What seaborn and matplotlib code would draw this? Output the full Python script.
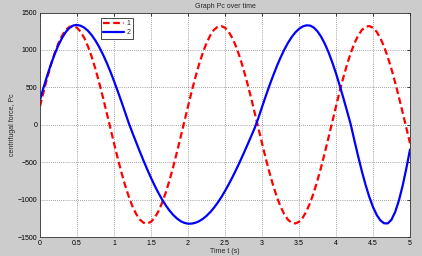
import numpy as np
import pandas as pd
import matplotlib
matplotlib.use('Agg')
import matplotlib.pyplot as plt
import seaborn as sns

# time axis, sampled every 0.05 s
time_s = np.round(np.arange(0, 101) * 0.05, 2)

# series 1 (red dashed)
pc_1 = [247, 447, 636, 809, 962, 1092, 1194, 1268, 1310, 1319,
        1297, 1242, 1157, 1043, 904, 742, 562, 368, 165, -41,
        -247, -447, -636, -809, -962, -1092, -1194, -1268, -1310, -1319,
        -1297, -1242, -1157, -1043, -904, -742, -562, -368, -165, 41,
        247, 447, 636, 809, 962, 1092, 1194, 1268, 1310, 1319,
        1297, 1242, 1157, 1043, 904, 742, 562, 368, 165, -41,
        -247, -447, -636, -809, -962, -1092, -1194, -1268, -1310, -1319,
        -1297, -1242, -1157, -1043, -904, -742, -562, -368, -165, 41,
        247, 447, 636, 809, 962, 1092, 1194, 1268, 1310, 1319,
        1297, 1242, 1157, 1043, 904, 742, 562, 368, 165, -41,
        -247]

# series 2 (blue solid)
pc_2 = [334, 504, 665, 815, 949, 1066, 1164, 1242, 1296, 1327,
        1335, 1323, 1296, 1254, 1196, 1124, 1039, 941, 832, 713,
        585, 449, 310, 166, 21, -110, -236, -361, -482, -599,
        -710, -814, -911, -999, -1078, -1147, -1205, -1252, -1288, -1311,
        -1322, -1321, -1310, -1289, -1258, -1218, -1168, -1110, -1043, -968,
        -885, -796, -701, -601, -496, -387, -275, -161, -46, 89,
        237, 382, 523, 656, 782, 897, 1002, 1093, 1171, 1234,
        1282, 1314, 1329, 1326, 1299, 1248, 1175, 1080, 966, 833,
        686, 525, 356, 180, 0, -216, -425, -624, -805, -965,
        -1100, -1205, -1278, -1317, -1318, -1268, -1164, -1011, -816, -585,
        -330]

x_ticks = [0, 0.5, 1, 1.5, 2, 2.5, 3, 3.5, 4, 4.5, 5]
x_tick_labels = ['0', '0.5', '1', '1.5', '2', '2.5', '3', '3.5', '4', '4.5', '5']
y_ticks = [-1500, -1000, -500, 0, 500, 1000, 1500]

df = pd.DataFrame({'t': np.concatenate([time_s, time_s]),
                   'Pc': pc_1 + pc_2,
                   'series': ['1'] * len(pc_1) + ['2'] * len(pc_2)})

sns.set_style('white')
plt.rcParams['font.family'] = ['Liberation Sans', 'DejaVu Sans']

fig = plt.figure(figsize=(4.22, 2.56), dpi=100, facecolor='#cccccc')
ax = fig.add_axes([0.0948, 0.0742, 0.8768, 0.8768])
ax.set_facecolor('white')

sns.lineplot(data=df, x='t', y='Pc', hue='series', style='series',
             palette={'1': '#ff0000', '2': '#0000ff'},
             dashes={'1': (3, 1.6), '2': ''}, linewidth=1.6, ax=ax)

ax.set_xlim(0, 5)
ax.set_ylim(-1500, 1500)
ax.set_xticks(x_ticks)
ax.set_xticklabels(x_tick_labels)
ax.set_yticks(y_ticks)
ax.grid(True, color='black', linestyle=(0, (1, 2)), linewidth=0.5, alpha=0.7)
ax.tick_params(direction='in', length=2.5, width=0.5, labelsize=5,
               top=True, right=True, pad=2, colors='black')
for s in ax.spines.values():
    s.set_color('#333333')
    s.set_linewidth(0.6)

ax.set_title('Graph Pc over time', fontsize=5, pad=3)
ax.set_xlabel('Time t (s)', fontsize=5, labelpad=1)
ax.set_ylabel('centrifugal force, Pc', fontsize=5, labelpad=1)

leg = ax.legend(loc='upper left', bbox_to_anchor=(0.155, 0.99), fontsize=5,
                handlelength=3.0, handletextpad=0.4, borderpad=0.3,
                labelspacing=0.3, fancybox=False, framealpha=1)
leg.get_frame().set_edgecolor('black')
leg.get_frame().set_linewidth(0.5)

fig.savefig('out.png', dpi=100, facecolor=fig.get_facecolor())
